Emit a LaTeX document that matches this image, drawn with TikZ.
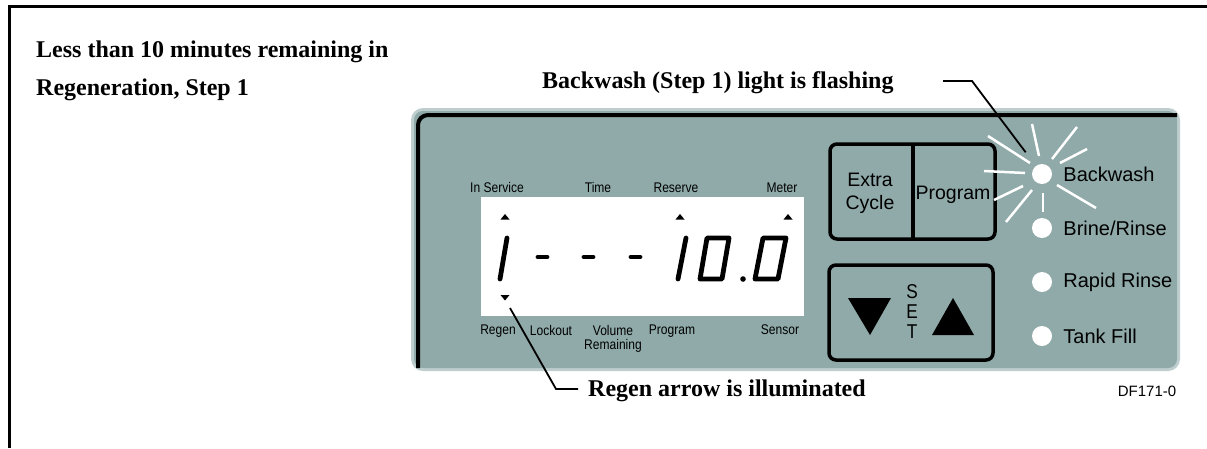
\documentclass[tikz,border=0pt]{standalone}
\usepackage{fontspec}
\setmainfont{Liberation Serif}
\setsansfont{Liberation Sans}
\newfontfamily\narrowsf[FakeStretch=0.86]{Liberation Sans}
\usetikzlibrary{positioning,shapes.geometric}
\definecolor{panelgray}{RGB}{143,170,169}
\definecolor{rimgray}{RGB}{190,205,205}

\begin{document}
\begin{tikzpicture}[
    x=1pt, y=-1pt,
    note/.style={font=\fontsize{24}{28}\selectfont\bfseries, inner sep=0pt, anchor=base west},
    plabel/.style={font=\fontsize{14}{14}\selectfont\narrowsf, inner sep=0pt, align=center},
    keylabel/.style={font=\fontsize{19.5}{23}\selectfont\sffamily, inner sep=0pt, align=center},
    ledlabel/.style={font=\fontsize{20}{22}\selectfont\sffamily, inner sep=0pt},
    led/.style={circle, fill=white, minimum size=20pt, inner sep=0pt},
    keybox/.style={draw, line width=3.5pt, rounded corners=7pt},
    ray/.style={white, line width=2.5pt},
    seg/.style={line width=4.8pt, line cap=round, line join=round},
    leader/.style={line width=1.8pt}
]
\useasboundingbox (0,0) rectangle (1207,448);
% page frame
\draw[line width=3pt] (9.5,448) -- (9.5,6.5) -- (1207,6.5);

% notes
\node[note] (stepnote) at (36,57) {Less than 10 minutes remaining in};
\node[note] (stepnote2) at (36,95) {Regeneration, Step 1};
\node[note] (flashnote) at (542,88) {Backwash (Step 1) light is flashing};
\node[note] (regennote) at (588,396) {Regen arrow is illuminated};

% control panel
\fill[rimgray, rounded corners=12pt] (411,108) rectangle (1180,371);
\fill[panelgray, rounded corners=9pt] (414,111) rectangle (1177,368);
\draw[line width=4pt, rounded corners=10pt] (418,368) -- (418,115) -- (1177,115);

% display
\node[fill=white, minimum width=323pt, minimum height=119pt, inner sep=0pt] (lcd) at (642.5,256.5) {};
\node[plabel, anchor=base] (inservice) at (497,192) {In Service};
\node[plabel, anchor=base] (time) at (598,192) {Time};
\node[plabel, anchor=base] (reserve) at (676,192) {Reserve};
\node[plabel, anchor=base] (meter) at (782,192) {Meter};
\node[plabel, anchor=north] (regen) at (498,325) {Regen};
\node[plabel, anchor=north] (lockout) at (551,325) {Lockout};
\node[plabel, anchor=north] (volume) at (613,325) {Volume\\Remaining};
\node[plabel, anchor=north] (program) at (672,325) {Program};
\node[plabel, anchor=north] (sensor) at (780,325) {Sensor};

\foreach \ax in {505,680,788}
  \fill (\ax-4.5,219.5) -- (\ax+4.5,219.5) -- (\ax,214) -- cycle;
\fill (500.5,295) -- (509.5,295) -- (505,300.5) -- cycle;
\coordinate (regenarrow) at (510,308);

% digits
\draw[seg] (507,238) -- (500,279);
\foreach \dx in {538,584,631}
  \draw[seg] (\dx,257) -- (\dx+9,257);
\draw[seg] (686,238) -- (678,279);
\draw[seg] (707,238) -- (729,238) -- (722,279) -- (700,279) -- cycle;
\fill (743,279) circle (2.8);
\draw[seg] (763,238) -- (786,238) -- (778,279) -- (755,279) -- cycle;

% keys
\draw[keybox] (830,144) rectangle (995,239);
\draw[line width=3.5pt] (913,144) -- (913,239);
\node[keylabel] (extra) at (870,193) {Extra\\Cycle};
\node[keylabel] (programkey) at (953,195) {Program};
\draw[keybox] (829,265) rectangle (993,360);
\fill (848,298) -- (891,298) -- (870,335) -- cycle;
\fill (932,335) -- (974,335) -- (953,298) -- cycle;
\node[font=\fontsize{20}{20}\selectfont\narrowsf, align=center, inner sep=0pt] (setword) at (912,312) {S\\E\\T};

% lights
\node[led] (ledbw) at (1042,174) {};
\node[led] (ledbr) at (1042,228) {};
\node[led] (ledrr) at (1042,282) {};
\node[led] (ledtf) at (1042,336) {};
\node[ledlabel, right=11pt of ledbw] (bwtext) {Backwash};
\node[ledlabel, right=11pt of ledbr] (brtext) {Brine/Rinse};
\node[ledlabel, right=11pt of ledrr] (rrtext) {Rapid Rinse};
\node[ledlabel, right=11pt of ledtf] (tftext) {Tank Fill};
\foreach \ax/\ay/\bx/\by in {988/136/1030/163, 1032/124/1039/156, 1077/127/1052/159,
    1087/149/1060/163, 984/171/1025/173, 994/200/1023/186, 1006/222/1032/190,
    1043/193/1043/212, 1057/185/1096/208}
  \draw[ray] (\ax,\ay) -- (\bx,\by);

\node[font=\fontsize{15}{15}\selectfont\sffamily, inner sep=0pt] (dfcode) at (1147,391.5) {DF171-0};

% leaders
\coordinate (bwstart) at (943,81);
\coordinate (bwknee) at (972,81);
\draw[leader, shorten >=17pt] (bwstart) -- (bwknee) -- (ledbw);
\coordinate (regenknee) at (556,389);
\draw[leader] (regenarrow) -- (regenknee) -- ++(22,0);
\end{tikzpicture}
\end{document}
